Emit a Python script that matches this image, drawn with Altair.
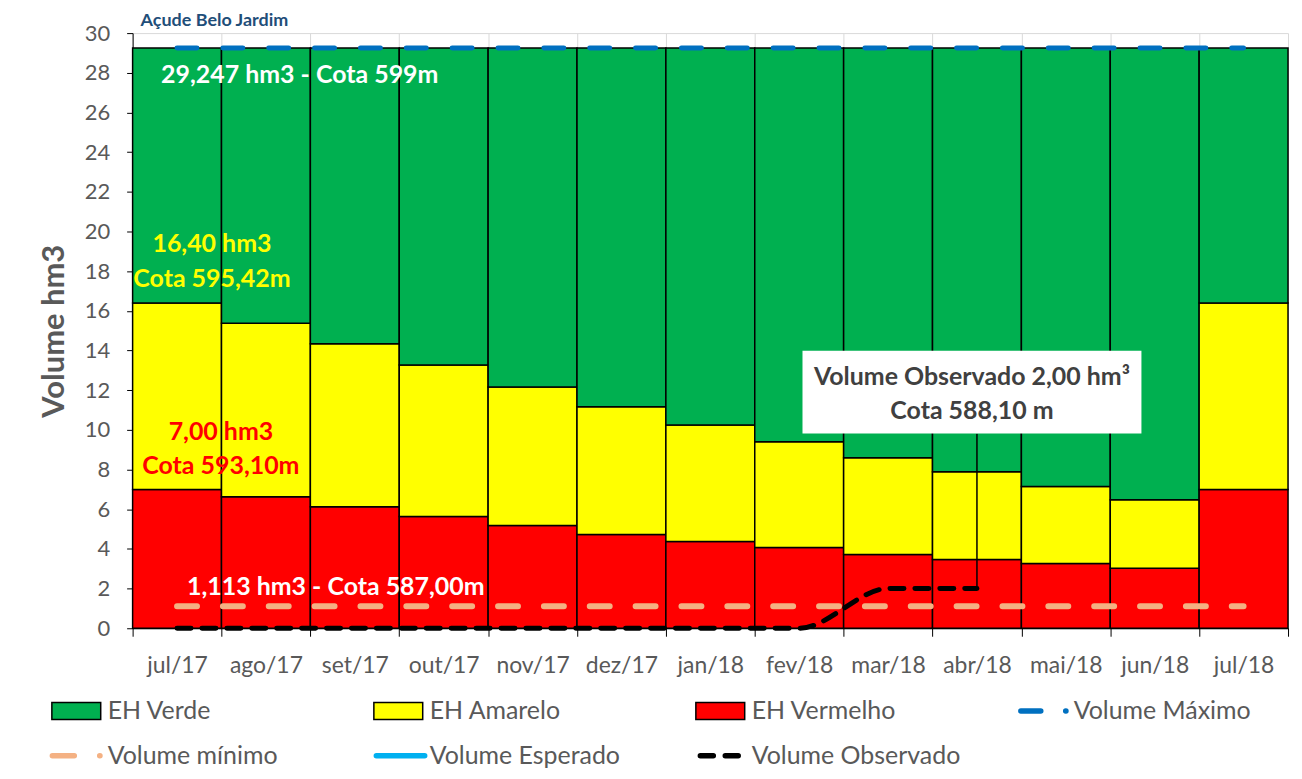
import altair as alt
import pandas as pd

# ---------------- data ----------------
months = ["jul/17", "ago/17", "set/17", "out/17", "nov/17", "dez/17", "jan/18",
          "fev/18", "mar/18", "abr/18", "mai/18", "jun/18", "jul/18"]
eh_vermelho = [7.00, 6.63, 6.13, 5.63, 5.18, 4.72, 4.37, 4.07, 3.72, 3.47, 3.27, 3.02, 7.00]
eh_amarelo = [9.40, 8.75, 8.21, 7.64, 6.98, 6.44, 5.88, 5.33, 4.87, 4.42, 3.87, 3.46, 9.40]
eh_verde = [12.847, 13.867, 14.907, 15.977, 17.087, 18.087, 18.997, 19.847, 20.657,
            21.357, 22.107, 22.767, 12.847]
volume_maximo = [29.247] * 13
volume_minimo = [1.113] * 13
volume_observado = [0, 0, 0, 0, 0, 0, 0, 0, 2.00, 2.00, None, None, None]
y_ticks = list(range(0, 31, 2))

zones = ["EH Vermelho", "EH Amarelo", "EH Verde"]
zone_colors = ["#FF0000", "#FFFF00", "#00B050"]

legend_labels = ["EH Verde", "EH Amarelo", "EH Vermelho", "Volume Máximo",
                 "Volume mínimo", "Volume Esperado", "Volume Observado"]
legend_cols = [0, 1, 2, 3, 0, 1, 2]
legend_rows = [0, 0, 0, 0, 1, 1, 1]

# annotations: (text, month, value, colour, align, dx)
notes = [
    ("29,247 hm3 - Cota 599m", "jul/17", 27.9, "white", "left", -16),
    ("16,40 hm3", "jul/17", 19.35, "#FFFF00", "center", 35),
    ("Cota 595,42m", "jul/17", 17.6, "#FFFF00", "center", 35),
    ("7,00 hm3", "jul/17", 9.9, "#FF0000", "center", 44),
    ("Cota 593,10m", "jul/17", 8.2, "#FF0000", "center", 44),
    ("1,113 hm3 - Cota 587,00m", "jul/17", 2.1, "white", "left", 10),
]
callout_lines = ["Volume Observado 2,00 hm³", "Cota 588,10 m"]
callout_month = "abr/18"
callout_values = [12.66, 10.95]
callout_center = 11.9
callout_bottom = 9.8

# ---------------- styles ----------------
FONT = "Lato"
GRAY = "#595959"

x_scale = alt.Scale(domain=months, paddingInner=0, paddingOuter=0)
x_axis = alt.Axis(title=None, labelAngle=0, labelFontSize=23, labelColor=GRAY,
                  labelFont=FONT, tickBand="extent", tickColor="black", tickSize=8,
                  domainColor="black", grid=True, gridColor="#D9D9D9", labelPadding=18)
y_scale = alt.Scale(domain=[0, 30], nice=False)
y_axis = alt.Axis(title="Volume hm3", values=y_ticks, labelFontSize=22, labelColor=GRAY,
                  labelFont=FONT, titleFont=FONT, titleFontSize=31, titleFontWeight="bold",
                  titleColor=GRAY, tickColor="black", tickSize=6, labelPadding=17,
                  domainColor="black", grid=True, gridColor="#D9D9D9", titlePadding=14)


def X():
    return alt.X("month:N", scale=x_scale, axis=x_axis)


def Y():
    return alt.Y("value:Q", scale=y_scale, axis=y_axis)


# ---------------- bars ----------------
rows = []
for i, m in enumerate(months):
    for k, (z, vals) in enumerate(zip(zones, [eh_vermelho, eh_amarelo, eh_verde])):
        rows.append({"month": m, "zone": z, "ord": k, "value": vals[i]})
bars_df = pd.DataFrame(rows)

bars = alt.Chart(bars_df).mark_bar(stroke="black", strokeWidth=1.5).encode(
    x=X(),
    y=alt.Y("value:Q", scale=y_scale, axis=y_axis, stack="zero"),
    color=alt.Color("zone:N", scale=alt.Scale(domain=zones, range=zone_colors), legend=None),
    order=alt.Order("ord:Q", sort="ascending"),
)

# ---------------- lines ----------------
max_df = pd.DataFrame({"month": months, "value": volume_maximo})
min_df = pd.DataFrame({"month": months, "value": volume_minimo})
obs_df = pd.DataFrame({"month": months, "value": volume_observado})

max_line = alt.Chart(max_df).mark_line(color="#0070C0", strokeWidth=5,
                                        strokeDash=[20, 26], strokeCap="round").encode(x=X(), y=Y())
min_line = alt.Chart(min_df).mark_line(color="#F4B183", strokeWidth=6,
                                        strokeDash=[20, 26], strokeCap="round").encode(x=X(), y=Y())
obs_line = alt.Chart(obs_df).mark_line(color="black", strokeWidth=5, strokeDash=[14, 11],
                                        strokeCap="round", interpolate="monotone").encode(x=X(), y=Y())

# ---------------- annotations ----------------
note_layers = []
for text, m, v, col, al, dx in notes:
    d = pd.DataFrame({"month": [m], "value": [v], "label": [text]})
    note_layers.append(
        alt.Chart(d).mark_text(color=col, fontSize=25, fontWeight="bold", font=FONT,
                               align=al, baseline="middle", dx=dx).encode(x=X(), y=Y(), text="label:N")
    )

leader_df = pd.DataFrame({"month": [callout_month], "value": [volume_observado[9]],
                          "top": [callout_bottom]})
leader = alt.Chart(leader_df).mark_rule(color="black", strokeWidth=1.5).encode(
    x=X(), y=Y(), y2="top:Q")

box_df = pd.DataFrame({"month": [callout_month], "value": [callout_center]})
box = alt.Chart(box_df).mark_point(
    shape="M-17.5,-4.15H16.5V4.15H-17.5Z", size=400, filled=True, fill="white",
    stroke=None, opacity=1).encode(x=X(), y=Y())

callout_df = pd.DataFrame({"month": [callout_month] * 2, "value": callout_values,
                           "label": callout_lines})
callout_text = alt.Chart(callout_df).mark_text(
    color="#404040", fontSize=25, fontWeight="bold", font=FONT, dx=-5,
    baseline="middle").encode(x=X(), y=Y(), text="label:N")

main = alt.layer(bars, max_line, min_line, obs_line, *note_layers, leader, box, callout_text)

# ---------------- legend (drawn below the plot) ----------------
leg_df = pd.DataFrame({"label": legend_labels, "col": legend_cols, "row": legend_rows})
leg_x = alt.X("col:Q", scale=alt.Scale(domain=[0, 3], range=[-81, 888]), axis=None)
leg_y = alt.Y("row:Q", scale=alt.Scale(domain=[0, 1], range=[680, 725]), axis=None)

swatch_names = ["EH Verde", "EH Amarelo", "EH Vermelho"]
swatches = alt.Chart(leg_df).transform_filter(
    alt.FieldOneOfPredicate(field="label", oneOf=swatch_names)
).mark_point(shape="M0,-1.7H9.8V1.7H0Z", size=100, filled=True, stroke="black",
             strokeWidth=1.5, opacity=1).encode(
    x=leg_x, y=leg_y,
    fill=alt.Fill("label:N", scale=alt.Scale(domain=swatch_names,
                                             range=["#00B050", "#FFFF00", "#FF0000"]), legend=None),
)

line_names = ["Volume Máximo", "Volume mínimo", "Volume Esperado", "Volume Observado"]
line_syms = alt.Chart(leg_df).transform_filter(
    alt.FieldOneOfPredicate(field="label", oneOf=line_names)
).mark_point(size=100, filled=False, strokeWidth=5.5, strokeCap="round", opacity=1).encode(
    x=leg_x, y=leg_y,
    stroke=alt.Stroke("label:N", scale=alt.Scale(domain=line_names,
                                                 range=["#0070C0", "#F4B183", "#00B0F0", "black"]),
                      legend=None),
    shape=alt.Shape("label:N", scale=alt.Scale(domain=line_names, range=[
        "M0.6,0H4.6M9.6,0H9.65",
        "M0.1,0H4.5M9.6,0H9.65",
        "M0.5,0H10.2",
        "M0.9,0H3.5M5.9,0H8.5",
    ]), legend=None),
)

leg_text = alt.Chart(leg_df).mark_text(align="left", baseline="middle", dx=56, fontSize=25,
                                       font=FONT, color=GRAY).encode(
    x=leg_x, y=leg_y, text="label:N")

legend = alt.layer(swatches, line_syms, leg_text)

chart = alt.layer(main, legend).resolve_scale(
    x="independent", y="independent", fill="independent", stroke="independent",
    shape="independent", color="independent"
).properties(
    width=1159, height=597,
    padding={"left": 30, "top": 3, "right": 5, "bottom": 0},
    title=alt.TitleParams("Açude Belo Jardim", anchor="start", frame="group", dx=8,
                          fontSize=18, color="#1F4E79", font=FONT, fontWeight="bold",
                          offset=-8),
).configure(font=FONT).configure_view(stroke=None)

chart.save("out.html", embed_options={"renderer": "svg", "actions": False})
